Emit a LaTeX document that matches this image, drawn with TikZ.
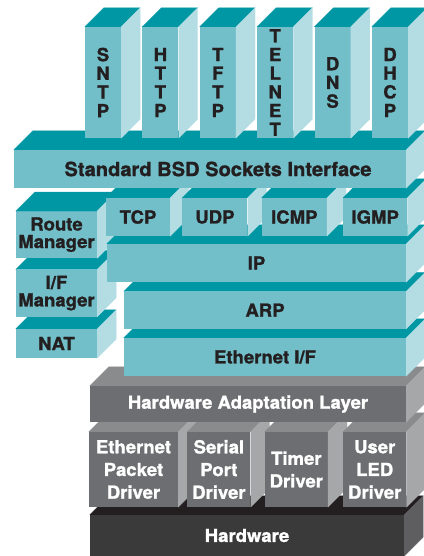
\documentclass[tikz,border=0pt]{standalone}
\usepackage{fontspec}
\setsansfont{TeX Gyre Heros}[BoldFeatures={FakeBold=1.2, FakeStretch=1.03}]
\usetikzlibrary{positioning}
\definecolor{tealfront}{HTML}{72BFC9}
\definecolor{tealtop}{HTML}{0097A5}
\definecolor{tealside}{HTML}{B3DDE3}
\definecolor{greyfront}{HTML}{6D6E71}
\definecolor{greytop}{HTML}{8A8B8D}
\definecolor{greyside}{HTML}{A6A7A9}
\definecolor{darkfront}{HTML}{3A3A3B}
\definecolor{darktop}{HTML}{231F20}
\definecolor{darkside}{HTML}{5E5E60}
\definecolor{ink}{HTML}{231F20}
\newcommand{\offs}{19} % how far the top and side faces reach back
% top and side face of the box whose front is node #1, colours #2top and #2side
\newcommand{\faces}[2]{%
  \filldraw[#2top, line width=.2pt] (#1.north west) -- ([shift={(\offs,-\offs)}]#1.north west)
    -- ([shift={(\offs,-\offs)}]#1.north east) -- (#1.north east) -- cycle;
  \filldraw[#2side, line width=.2pt] (#1.north east) -- ([shift={(\offs,-\offs)}]#1.north east)
    -- ([shift={(\offs,-\offs)}]#1.south east) -- (#1.south east) -- cycle;
}
\tikzset{
x=1pt, y=-1pt, % one unit per pixel, y grows downwards
box/.style={inner sep=0pt, align=center, font=\sffamily\bfseries\fontsize{18}{17.5}\selectfont}, % front face of every box
tealbox/.style={box, fill=tealfront, text=ink}, % protocol boxes
greybox/.style={box, fill=greyfront, text=white}, % adaptation layer and drivers
darkbox/.style={box, fill=darkfront, text=white}, % hardware
column/.style={tealbox, minimum width=36, minimum height=111, font=\sffamily\bfseries\fontsize{18}{18.7}\selectfont}, % applications
leading/.style={font=\sffamily\bfseries\fontsize{18}{#1}\selectfont}, % line distance of a box
}

\begin{document}
\begin{tikzpicture}
\useasboundingbox (0,0) rectangle (423,556);
% hardware and drivers
\node[darkbox, minimum width=314, minimum height=41] (hw) at (247,535.5) {Hardware};
\faces{hw}{dark}
\node[greybox, leading=22.7, minimum width=89, minimum height=75] (epd) at (133.5,469.5) {Ethernet\\Packet\\Driver};
\faces{epd}{grey}
\node[greybox, leading=22.7, minimum width=63, minimum height=75, right=9pt of epd] (spd) {Serial\\Port\\Driver};
\faces{spd}{grey}
\node[greybox, leading=22.7, minimum width=63, minimum height=75, right=14pt of spd] (td) {Timer\\Driver};
\faces{td}{grey}
\node[greybox, leading=22.7, minimum width=63, minimum height=75, right=15pt of td] (uld) {User\\LED\\Driver};
\faces{uld}{grey}
\node[greybox, minimum width=316, minimum height=36] (hal) at (248,404) {Hardware Adaptation Layer};
\faces{hal}{grey}
% network layers
\node[tealbox, minimum width=282, minimum height=38] (eth) at (265,357) {Ethernet I/F};
\faces{eth}{teal}
\node[tealbox, minimum width=282, minimum height=37, above=9pt of eth] (arp) {ARP};
\faces{arp}{teal}
\node[tealbox, minimum width=81, minimum height=29] (nat) at (56.5,343.5) {NAT};
\faces{nat}{teal}
\node[tealbox, minimum width=81, minimum height=47, above=12pt of nat] (ifm) {I/F\\Manager};
\faces{ifm}{teal}
\node[tealbox, minimum width=81, minimum height=47, above=11pt of ifm] (rm) {Route\\Manager};
\faces{rm}{teal}
\node[tealbox, minimum width=299, minimum height=38] (ip) at (256.5,263) {IP};
\faces{ip}{teal}
\node[tealbox, minimum width=64, minimum height=38] (tcp) at (138,217) {TCP};
\faces{tcp}{teal}
\node[tealbox, minimum width=65, minimum height=38, right=12pt of tcp] (udp) {UDP};
\faces{udp}{teal}
\node[tealbox, minimum width=65, minimum height=38, right=14pt of udp] (icmp) {ICMP};
\faces{icmp}{teal}
\node[tealbox, minimum width=64, minimum height=38, right=16pt of icmp] (igmp) {IGMP};
\faces{igmp}{teal}
\node[tealbox, minimum width=392, minimum height=38, font=\sffamily\bfseries\fontsize{19.5}{20}\selectfont] (bsd) at (210,169) {\hspace*{16pt}Standard BSD Sockets Interface};
\faces{bsd}{teal}
% applications
\node[column] (sntp) at (103,82.5) {S\\N\\T\\P};
\faces{sntp}{teal}
\node[column, right=21pt of sntp] (http) {H\\T\\T\\P};
\faces{http}{teal}
\node[column, right=21pt of http] (tftp) {T\\F\\T\\P};
\faces{tftp}{teal}
\node[column, right=21pt of tftp] (telnet) {T\\E\\L\\N\\E\\T};
\faces{telnet}{teal}
\node[column, right=21pt of telnet] (dns) {D\\N\\S};
\faces{dns}{teal}
\node[column, right=21pt of dns] (dhcp) {D\\H\\C\\P};
\faces{dhcp}{teal}
\end{tikzpicture}
\end{document}
